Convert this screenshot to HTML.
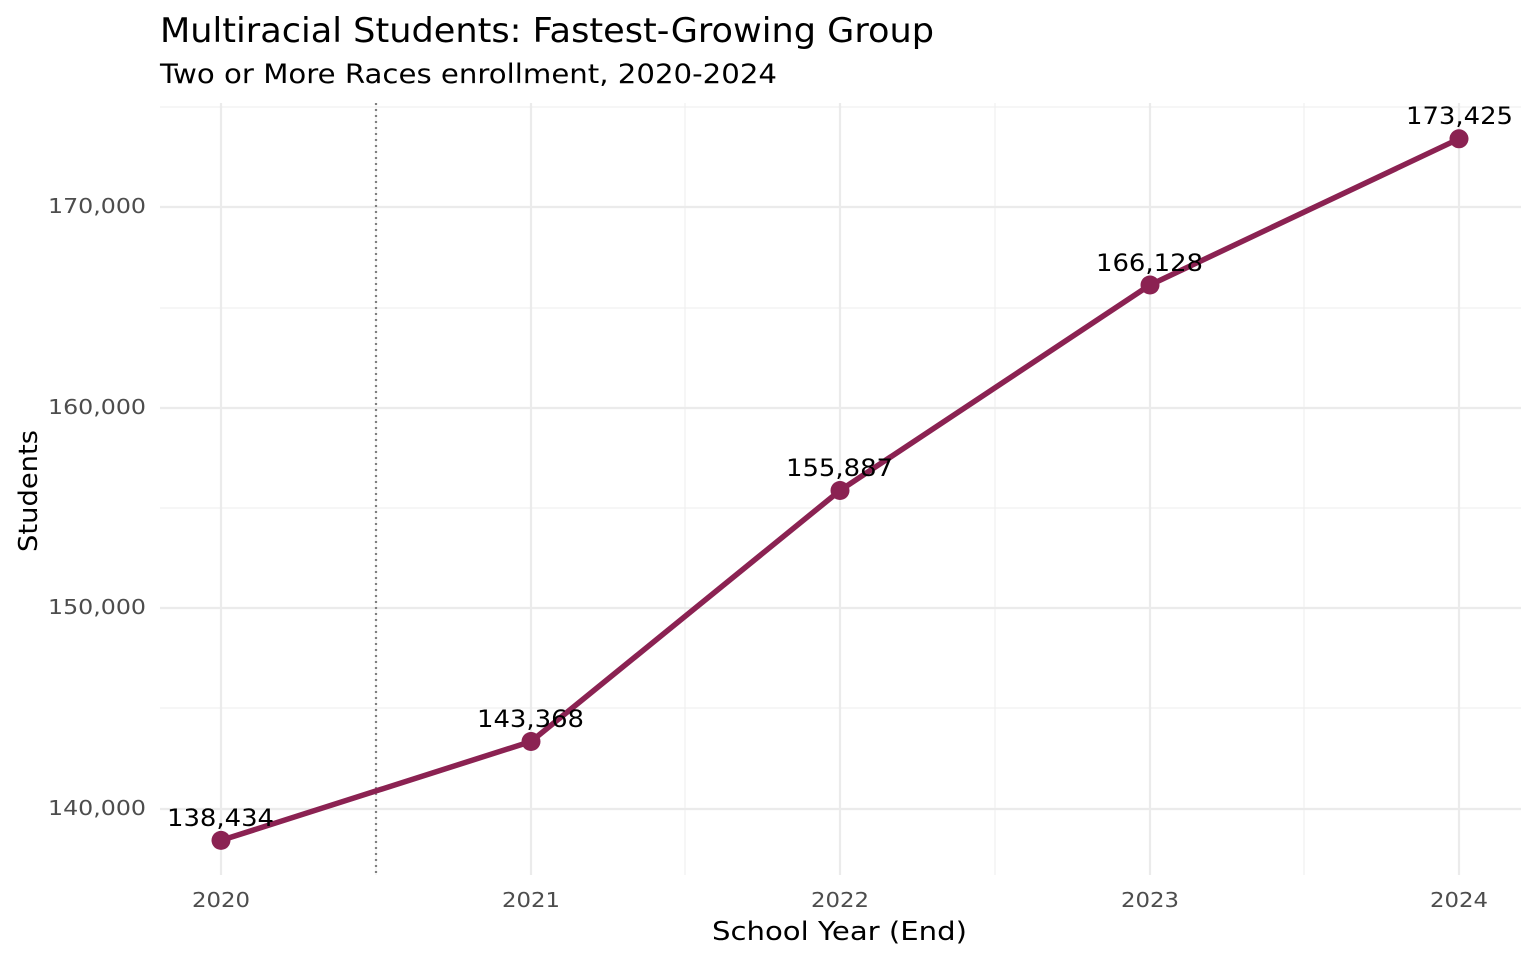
<!DOCTYPE html>
<html><head><meta charset="utf-8"><style>
html,body{margin:0;padding:0;background:#fff;}
svg{display:block;font-family:"DejaVu Sans","Liberation Sans",sans-serif;}
</style></head><body>
<svg width="1536" height="960" xmlns="http://www.w3.org/2000/svg">
<rect width="1536" height="960" fill="#fff"/>
<g stroke="#f0f0f0" stroke-width="1.2">
<line x1="160" x2="1521" y1="708" y2="708"/><line x1="160" x2="1521" y1="508" y2="508"/>
<line x1="160" x2="1521" y1="308" y2="308"/><line x1="160" x2="1521" y1="107" y2="107"/>
<line x1="376" x2="376" y1="103" y2="875"/><line x1="685" x2="685" y1="103" y2="875"/>
<line x1="995" x2="995" y1="103" y2="875"/><line x1="1304" x2="1304" y1="103" y2="875"/>
</g>
<g stroke="#ebebeb" stroke-width="2.2">
<line x1="160" x2="1521" y1="809" y2="809"/><line x1="160" x2="1521" y1="608" y2="608"/>
<line x1="160" x2="1521" y1="408" y2="408"/><line x1="160" x2="1521" y1="207" y2="207"/>
<line x1="221" x2="221" y1="103" y2="875"/><line x1="531" x2="531" y1="103" y2="875"/>
<line x1="840" x2="840" y1="103" y2="875"/><line x1="1150" x2="1150" y1="103" y2="875"/>
<line x1="1459" x2="1459" y1="103" y2="875"/>
</g>
<line x1="376" x2="376" y1="103" y2="875" stroke="#808080" stroke-width="2.2" stroke-dasharray="2,4"/>
<polyline points="221,840.4 531,741.5 840,490.5 1150,285 1459,138.8" fill="none" stroke="#8B2252" stroke-width="5.5"/>
<g fill="#8B2252">
<circle cx="221" cy="840.4" r="9.5"/><circle cx="531" cy="741.5" r="9.5"/><circle cx="840" cy="490.5" r="9.5"/>
<circle cx="1150" cy="285" r="9.5"/><circle cx="1459" cy="138.8" r="9.5"/>
</g>
<g font-size="24" fill="#000">
<text x="167" y="826" textLength="107" lengthAdjust="spacingAndGlyphs">138,434</text>
<text x="477" y="727" textLength="107" lengthAdjust="spacingAndGlyphs">143,368</text>
<text x="786" y="476" textLength="107" lengthAdjust="spacingAndGlyphs">155,887</text>
<text x="1096" y="271" textLength="107" lengthAdjust="spacingAndGlyphs">166,128</text>
<text x="1406" y="124" textLength="107" lengthAdjust="spacingAndGlyphs">173,425</text>
</g>
<g font-size="20" fill="#4d4d4d">
<text x="48" y="815" textLength="98" lengthAdjust="spacingAndGlyphs">140,000</text>
<text x="48" y="614" textLength="98" lengthAdjust="spacingAndGlyphs">150,000</text>
<text x="48" y="414" textLength="98" lengthAdjust="spacingAndGlyphs">160,000</text>
<text x="48" y="213" textLength="98" lengthAdjust="spacingAndGlyphs">170,000</text>
</g>
<g font-size="20" fill="#4d4d4d">
<text x="192" y="907" textLength="58" lengthAdjust="spacingAndGlyphs">2020</text>
<text x="502" y="907" textLength="58" lengthAdjust="spacingAndGlyphs">2021</text>
<text x="811" y="907" textLength="58" lengthAdjust="spacingAndGlyphs">2022</text>
<text x="1121" y="907" textLength="58" lengthAdjust="spacingAndGlyphs">2023</text>
<text x="1430" y="907" textLength="58" lengthAdjust="spacingAndGlyphs">2024</text>
</g>
<text x="712" y="940" font-size="26" textLength="255" lengthAdjust="spacingAndGlyphs">School Year (End)</text>
<text transform="translate(37,552) rotate(-90)" font-size="26" textLength="122" lengthAdjust="spacingAndGlyphs">Students</text>
<text x="160" y="42" font-size="34" textLength="774" lengthAdjust="spacingAndGlyphs">Multiracial Students: Fastest-Growing Group</text>
<text x="160" y="83" font-size="27" textLength="617" lengthAdjust="spacingAndGlyphs">Two or More Races enrollment, 2020-2024</text>
</svg>
</body></html>
